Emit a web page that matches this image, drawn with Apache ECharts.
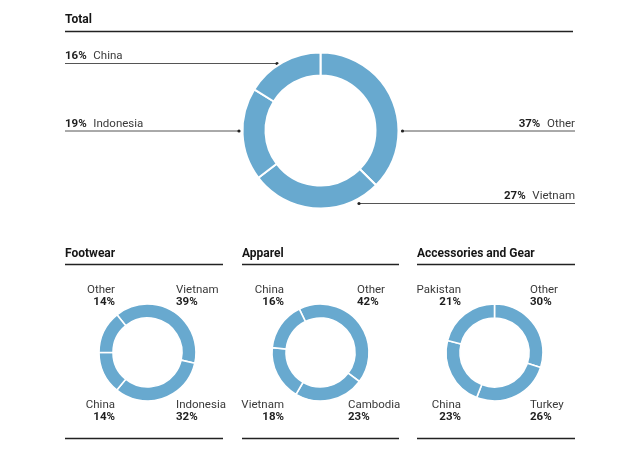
<!DOCTYPE html>
<html>
<head>
<meta charset="utf-8">
<script src="https://cdn.jsdelivr.net/npm/echarts@6/dist/echarts.min.js"></script>
<style>
html,body{margin:0;padding:0;background:#fff;}
#chart{width:640px;height:461px;}
</style>
</head>
<body>
<div id="chart"></div>
<script>
// ---- data ----
var totalNames = ['Other', 'Vietnam', 'Indonesia', 'China'];
var totalValues = [37, 27, 19, 16];

var footwearNames = ['Vietnam', 'Indonesia', 'China', 'Other'];
var footwearValues = [39, 32, 14, 14];

var apparelNames = ['Other', 'Cambodia', 'Vietnam', 'China'];
var apparelValues = [42, 23, 18, 16];

var accessoriesNames = ['Other', 'Turkey', 'China', 'Pakistan'];
var accessoriesValues = [30, 26, 23, 21];

var panelTitles = ['Total', 'Footwear', 'Apparel', 'Accessories and Gear'];

// ---- styling / layout ----
var BLUE = '#68a9cf';
var FONT = 'Roboto, "DejaVu Sans", sans-serif';
var NAME_COLOR = '#3a3a3a';
var PCT_COLOR = '#1e1e1e';

function toData(names, values) {
  return names.map(function (n, i) { return { name: n, value: values[i] }; });
}

var chart = echarts.init(document.getElementById('chart'), null, { renderer: 'canvas' });

var smallPanels = [
  { names: footwearNames, values: footwearValues, cx: 147.5, startAngle: 129, x0: 65, x1: 223,
    lab: { tl: [115, 'right'], tr: [176, 'left'], bl: [115, 'right'], br: [176, 'left'] },
    pos: { tl: 3, tr: 0, bl: 2, br: 1 } },
  { names: apparelNames, values: apparelValues, cx: 320.5, startAngle: 116, x0: 242, x1: 399,
    lab: { tl: [284, 'right'], tr: [357, 'left'], bl: [284, 'right'], br: [348, 'left'] },
    pos: { tl: 3, tr: 0, bl: 2, br: 1 } },
  { names: accessoriesNames, values: accessoriesValues, cx: 494.5, startAngle: 90, x0: 417, x1: 575,
    lab: { tl: [461, 'right'], tr: [530, 'left'], bl: [461, 'right'], br: [530, 'left'] },
    pos: { tl: 3, tr: 0, bl: 2, br: 1 } }
];

var series = [];
series.push({
  type: 'pie',
  center: [320.5, 130.5],
  radius: [55, 78],
  startAngle: 90,
  clockwise: true,
  silent: true,
  animation: false,
  label: { show: false },
  labelLine: { show: false },
  itemStyle: { color: BLUE, borderColor: '#fff', borderWidth: 2 },
  data: toData(totalNames, totalValues)
});
smallPanels.forEach(function (p) {
  series.push({
    type: 'pie',
    center: [p.cx, 352.5],
    radius: [34.5, 48.5],
    startAngle: p.startAngle,
    clockwise: true,
    silent: true,
    animation: false,
    label: { show: false },
    labelLine: { show: false },
    itemStyle: { color: BLUE, borderColor: '#fff', borderWidth: 1.6 },
    data: toData(p.names, p.values)
  });
});

var g = [];
function hline(x0, x1, y, w, color) {
  g.push({ type: 'line', shape: { x1: x0, y1: y, x2: x1, y2: y },
    style: { stroke: color, lineWidth: w }, silent: true });
}
function header(text, x, y) {
  g.push({ type: 'text', x: x, y: y, style: { text: text, font: 'bold 12px ' + FONT,
    fill: '#161616', textAlign: 'left', textVerticalAlign: 'middle' }, silent: true });
}

// Total panel
header(panelTitles[0], 65, 20);
hline(65, 573, 31.5, 1.6, '#222');

function totalLabel(idx, align, textX, textY, lineY, lx0, lx1, dotX) {
  var pct = totalValues[idx] + '%';
  var nm = totalNames[idx];
  g.push({ type: 'text', x: textX, y: textY, style: {
    text: '{p|' + pct + '}  {n|' + nm + '}',
    textAlign: align, textVerticalAlign: 'middle',
    rich: {
      p: { font: 'bold 11.5px ' + FONT, fill: PCT_COLOR },
      n: { font: '11.5px ' + FONT, fill: NAME_COLOR }
    } }, silent: true });
  hline(lx0, lx1, lineY, 1, '#555');
  g.push({ type: 'circle', shape: { cx: dotX, cy: lineY, r: 1.6 }, style: { fill: '#222' }, silent: true });
}
totalLabel(3, 'left', 65, 56, 63.5, 65, 277, 277);
totalLabel(2, 'left', 65, 124, 131, 65, 239, 239);
totalLabel(0, 'right', 575, 124, 131, 402.5, 575, 402.5);
totalLabel(1, 'right', 575, 196, 203.5, 359, 575, 359);

// small panels
smallPanels.forEach(function (p, k) {
  header(panelTitles[k + 1], p.x0, 254);
  hline(p.x0, p.x1, 264.5, 1.6, '#222');
  hline(p.x0, p.x1, 438.5, 1.6, '#222');
  ['tl', 'tr', 'bl', 'br'].forEach(function (key) {
    var idx = p.pos[key];
    var lx = p.lab[key][0], al = p.lab[key][1];
    var top = key.charAt(0) === 't';
    var yName = top ? 290 : 405;
    g.push({ type: 'text', x: lx, y: yName, style: { text: p.names[idx], font: '11.5px ' + FONT,
      fill: NAME_COLOR, textAlign: al, textVerticalAlign: 'middle' }, silent: true });
    g.push({ type: 'text', x: lx, y: yName + 12, style: { text: p.values[idx] + '%', font: 'bold 11.5px ' + FONT,
      fill: PCT_COLOR, textAlign: al, textVerticalAlign: 'middle' }, silent: true });
  });
});

chart.setOption({
  animation: false,
  backgroundColor: '#fff',
  series: series,
  graphic: g
});
</script>
</body>
</html>
